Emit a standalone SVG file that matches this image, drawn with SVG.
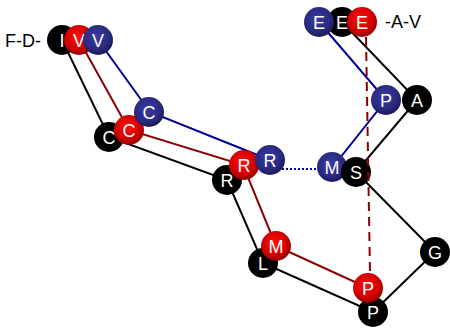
<svg xmlns="http://www.w3.org/2000/svg" width="450" height="329" viewBox="0 0 450 329">
<defs>
<radialGradient id="gr" cx="0.45" cy="0.4" r="0.6">
<stop offset="0" stop-color="#ff1010"/>
<stop offset="0.7" stop-color="#d00000"/>
<stop offset="1" stop-color="#900000"/>
</radialGradient>
<radialGradient id="gb" cx="0.45" cy="0.4" r="0.6">
<stop offset="0" stop-color="#3a3aa0"/>
<stop offset="0.7" stop-color="#2a2a80"/>
<stop offset="1" stop-color="#1a1a58"/>
</radialGradient>
<style>
.k{fill:#000}
.r{fill:url(#gr)}
.b{fill:url(#gb)}
.t{fill:#fff;font-family:"Liberation Sans",Arial,sans-serif;font-size:18px;text-anchor:middle}
.lbl{fill:#000;font-family:"Liberation Sans",Arial,sans-serif;font-size:18px}
.lk{stroke:#000;stroke-width:2;fill:none}
.lr{stroke:#8b0000;stroke-width:2;fill:none}
.lb{stroke:#000099;stroke-width:2;fill:none}
</style>
</defs>
<g id="connectors">
<polyline class="lk" points="62,40 109,137 227,180 263,263 373,312 435,252 356,172 417,100 342,22"/>
<polyline class="lr" points="79,40 129,130 243,165 276,246 368,288"/>
<polyline class="lb" points="98,40 150,112 270,160"/>
<line class="lb" x1="270" y1="169" x2="332" y2="169" stroke-dasharray="2,2" stroke-width="2.5"/>
<polyline class="lb" points="332,168 386,100 319,22"/>
</g>
<text class="lbl" x="5" y="47">F-D-</text>
<text class="lbl" x="385" y="28">-A-V</text>
<g id="n-I"><circle class="k" cx="62" cy="40" r="15"/><text class="t" x="62" y="46.5">I</text></g>
<g id="n-Ck"><circle class="k" cx="109" cy="137" r="15"/><text class="t" x="109" y="143.5">C</text></g>
<g id="n-Rk"><circle class="k" cx="227" cy="180" r="15"/><text class="t" x="227" y="186.5">R</text></g>
<g id="n-L"><circle class="k" cx="263" cy="263" r="15"/><text class="t" x="263" y="269.5">L</text></g>
<g id="n-Pk"><circle class="k" cx="373" cy="312" r="15"/><text class="t" x="373" y="318.5">P</text></g>
<g id="n-G"><circle class="k" cx="435" cy="252" r="15"/><text class="t" x="435" y="258.5">G</text></g>
<g id="n-A"><circle class="k" cx="417" cy="100" r="15"/><text class="t" x="417" y="106.5">A</text></g>
<g id="n-Ek"><circle class="k" cx="342" cy="22" r="15"/><text class="t" x="342" y="28.5">E</text></g>
<g id="n-Vr"><circle class="r" cx="79" cy="40" r="15"/><text class="t" x="79" y="46.5">V</text></g>
<g id="n-Cr"><circle class="r" cx="129" cy="130" r="15"/><text class="t" x="129" y="136.5">C</text></g>
<g id="n-Rr"><circle class="r" cx="244" cy="165" r="15"/><text class="t" x="244" y="171.5">R</text></g>
<g id="n-Mr"><circle class="r" cx="276" cy="246" r="15"/><text class="t" x="276" y="252.5">M</text></g>
<g id="n-Pr"><circle class="r" cx="368" cy="288" r="15"/><text class="t" x="368" y="294.5">P</text></g>
<g id="n-Er"><circle class="r" cx="362" cy="22" r="15"/><text class="t" x="362" y="28.5">E</text></g>
<g id="n-Vb"><circle class="b" cx="98" cy="40" r="15"/><text class="t" x="98" y="46.5">V</text></g>
<g id="n-Cb"><circle class="b" cx="149" cy="112" r="15"/><text class="t" x="149" y="118.5">C</text></g>
<g id="n-Rb"><circle class="b" cx="270" cy="160" r="15"/><text class="t" x="270" y="166.5">R</text></g>
<g id="n-Mb"><circle class="b" cx="332" cy="167" r="15"/><text class="t" x="332" y="173.5">M</text></g>
<g id="n-Pb"><circle class="b" cx="386" cy="100" r="15"/><text class="t" x="386" y="106.5">P</text></g>
<g id="n-Eb"><circle class="b" cx="319" cy="22" r="15"/><text class="t" x="319" y="28.5">E</text></g>
<g id="n-S"><circle class="k" cx="356" cy="172" r="15"/><text class="t" x="356" y="178.5">S</text></g>
<g id="dashed-connector"><line class="lr" x1="366" y1="37" x2="370" y2="273" stroke-dasharray="9,6"/></g>
</svg>
